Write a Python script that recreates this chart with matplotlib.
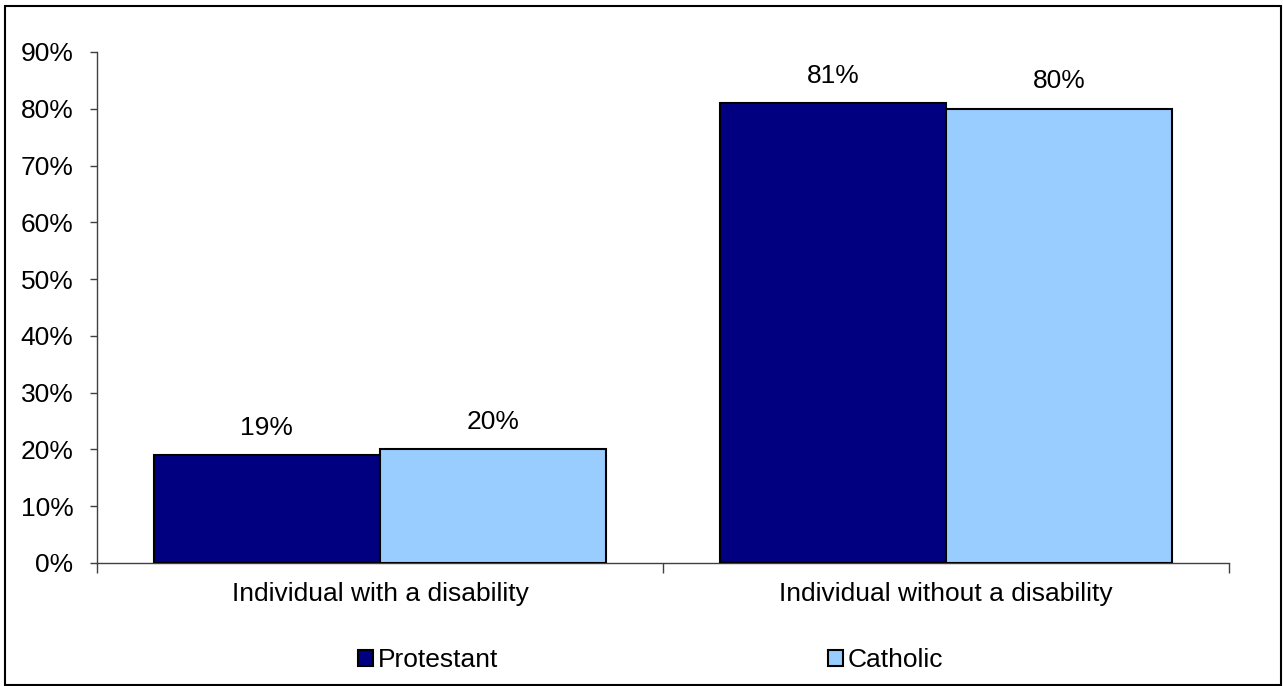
import matplotlib
matplotlib.use("Agg")
import matplotlib.pyplot as plt
from matplotlib.patches import Rectangle
from matplotlib.ticker import FixedLocator, PercentFormatter

categories = ["Individual with a disability", "Individual without a disability"]
series_names = ["Protestant", "Catholic"]
protestant = [19, 81]
catholic = [20, 80]
colors = ["#000080", "#99CCFF"]
yticks = [0, 10, 20, 30, 40, 50, 60, 70, 80, 90]

plt.rcParams['font.family'] = ['Liberation Sans', 'DejaVu Sans']
FS = 19

fig = plt.figure(figsize=(12.83, 6.86), dpi=100)
ax = fig.add_axes([97/1283, 1-563/686, (1229-97)/1283, (563-52)/686])

x = list(range(len(categories)))
w = 0.4
for i, (vals, name, c) in enumerate(zip([protestant, catholic], series_names, colors)):
    pos = [xi - w/2 + i*w for xi in x]
    bars = ax.bar(pos, vals, width=w, color=c, edgecolor="black", linewidth=1.5, label=name, zorder=3)
    for b, v in zip(bars, vals):
        ax.annotate(f"{v}%", (b.get_x() + b.get_width()/2, v), xytext=(0, 11),
                    textcoords="offset points", ha="center", va="bottom", fontsize=FS)

ax.set_xlim(-0.5, 1.5)
ax.set_ylim(0, 90)
ax.set_yticks(yticks)
ax.yaxis.set_major_formatter(PercentFormatter(decimals=0))
ax.tick_params(axis='y', labelsize=FS, length=5, width=1, color="#404040", pad=12)
ax.xaxis.set_major_locator(FixedLocator([-0.5, 0.5, 1.5]))
ax.set_xticklabels([])
ax.xaxis.set_minor_locator(FixedLocator(x))
ax.set_xticklabels(categories, minor=True)
ax.tick_params(axis='x', which='major', length=7, width=1, color="#404040")
ax.tick_params(axis='x', which='minor', length=0, labelsize=FS, pad=14)
for s in ["top", "right"]:
    ax.spines[s].set_visible(False)
for s in ["left", "bottom"]:
    ax.spines[s].set_color("#404040")
    ax.spines[s].set_linewidth(1)

leg = fig.legend(loc="center left", bbox_to_anchor=(358/1283, 1-660/686), ncol=2, frameon=False,
                 fontsize=FS, handlelength=0.55, handleheight=0.55, handletextpad=0.2,
                 columnspacing=12.5, borderaxespad=0, borderpad=0)

fig.patches.append(Rectangle((5/1283, 1/686), 1276/1283, 679/686, transform=fig.transFigure,
                             fill=False, edgecolor="black", linewidth=1.5))

fig.savefig("out.png", dpi=100)
